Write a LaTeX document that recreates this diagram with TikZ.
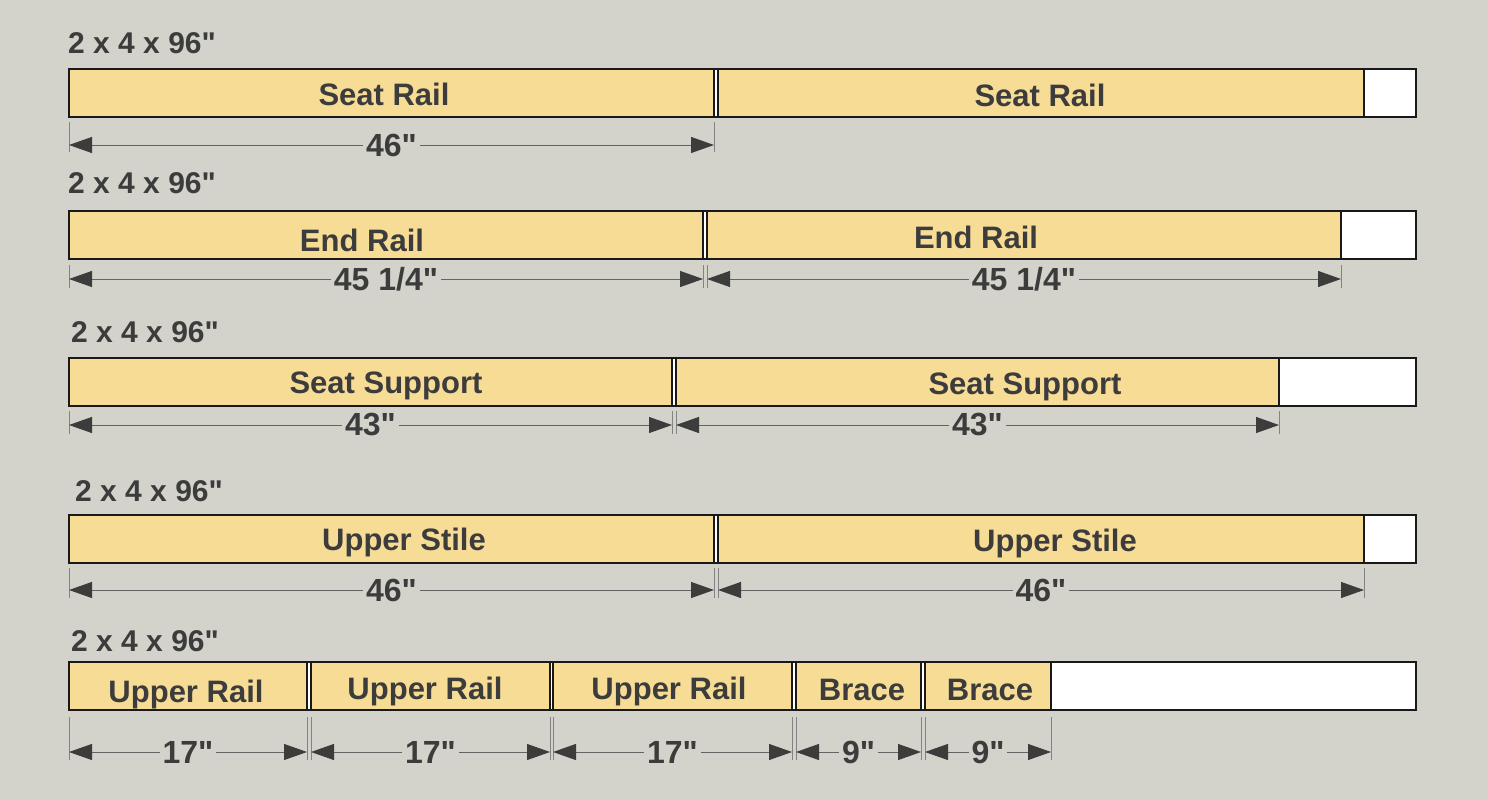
\documentclass[tikz,border=0pt]{standalone}
\usepackage{fontspec}
\setmainfont{Liberation Sans}[Ligatures=TeXOff]
\usetikzlibrary{arrows.meta, calc}

\definecolor{backdrop}{RGB}{211,211,203}
\definecolor{lumber}{RGB}{247,220,150}
\definecolor{ink}{RGB}{60,60,60}
\definecolor{dimgray}{RGB}{100,100,100}

\begin{document}
\begin{tikzpicture}[
    x=1pt, y=-1pt,
    board/.style={rectangle, draw=black!90, line width=2pt, fill=white, minimum height=48pt, inner sep=0pt, outer sep=0pt, anchor=north west},
    piece/.style={board, fill=lumber, line width=1.6pt},
    stock/.style={font=\fontsize{30}{36}\selectfont\bfseries, text=ink, anchor=base west, inner sep=0pt},
    part/.style={font=\fontsize{31}{36}\selectfont\bfseries, text=ink, anchor=base, inner sep=0pt},
    dimline/.style={{Triangle[length=23pt, width=16pt, color=ink]}-{Triangle[length=23pt, width=16pt, color=ink]}, draw=dimgray, line width=1pt},
    dimtext/.style={font=\fontsize{32}{36}\selectfont\bfseries, text=ink, fill=backdrop, inner xsep=3pt, inner ysep=1pt},
    extline/.style={draw=dimgray!80, line width=0.8pt}
]

\fill[backdrop] (0,0) rectangle (1488,800);

% Row 1 - seat rails
\node[stock] (stock1) at (68,53) {2 x 4 x 96"};
\node[board, minimum width=1347pt] (board1) at (69,69) {};
\node[piece, minimum width=645pt] (sr1) at (69,69) {};
\node[piece, minimum width=646pt] (sr2) at (718,69) {};
\node[part] at (384,105) {Seat Rail};
\node[part] at (1040,106) {Seat Rail};

\coordinate (dim1) at (0,145);
\coordinate (ext1a) at (0,122);
\coordinate (ext1b) at (0,152);
\draw[extline] (sr1.south west |- ext1a) -- (sr1.south west |- ext1b)
               (sr1.south east |- ext1a) -- (sr1.south east |- ext1b);
\draw[dimline] (sr1.south west |- dim1) -- (sr1.south east |- dim1) node[midway, dimtext] {46"};

% Row 2 - end rails
\node[stock] (stock2) at (68,193) {2 x 4 x 96"};
\node[board, minimum width=1347pt] (board2) at (69,211) {};
\node[piece, minimum width=634pt] (er1) at (69,211) {};
\node[piece, minimum width=634pt] (er2) at (707,211) {};
\node[part] at (362,251) {End Rail};
\node[part] at (976,248) {End Rail};

\coordinate (dim2) at (0,279);
\coordinate (ext2a) at (0,265);
\coordinate (ext2b) at (0,288);
\draw[extline] (er1.south west |- ext2a) -- (er1.south west |- ext2b)
               (er1.south east |- ext2a) -- (er1.south east |- ext2b)
               (er2.south west |- ext2a) -- (er2.south west |- ext2b)
               (er2.south east |- ext2a) -- (er2.south east |- ext2b);
\draw[dimline] (er1.south west |- dim2) -- (er1.south east |- dim2) node[midway, dimtext] {45 1/4"};
\draw[dimline] (er2.south west |- dim2) -- (er2.south east |- dim2) node[midway, dimtext] {45 1/4"};

% Row 3 - seat supports
\node[stock] (stock3) at (71,342) {2 x 4 x 96"};
\node[board, minimum width=1347pt] (board3) at (69,358) {};
\node[piece, minimum width=603pt] (ss1) at (69,358) {};
\node[piece, minimum width=603pt] (ss2) at (676,358) {};
\node[part] at (386,393) {Seat Support};
\node[part] at (1025,394) {Seat Support};

\coordinate (dim3) at (0,425);
\coordinate (ext3a) at (0,411);
\coordinate (ext3b) at (0,434);
\draw[extline] (ss1.south west |- ext3a) -- (ss1.south west |- ext3b)
               (ss1.south east |- ext3a) -- (ss1.south east |- ext3b)
               (ss2.south west |- ext3a) -- (ss2.south west |- ext3b)
               (ss2.south east |- ext3a) -- (ss2.south east |- ext3b);
\draw[dimline] (ss1.south west |- dim3) -- (ss1.south east |- dim3) node[midway, dimtext] {43"};
\draw[dimline] (ss2.south west |- dim3) -- (ss2.south east |- dim3) node[midway, dimtext] {43"};

% Row 4 - upper stiles
\node[stock] (stock4) at (75,501) {2 x 4 x 96"};
\node[board, minimum width=1347pt] (board4) at (69,515) {};
\node[piece, minimum width=645pt] (us1) at (69,515) {};
\node[piece, minimum width=646pt] (us2) at (718,515) {};
\node[part] at (404,550) {Upper Stile};
\node[part] at (1055,551) {Upper Stile};

\coordinate (dim4) at (0,590);
\coordinate (ext4a) at (0,568);
\coordinate (ext4b) at (0,598);
\draw[extline] (us1.south west |- ext4a) -- (us1.south west |- ext4b)
               (us1.south east |- ext4a) -- (us1.south east |- ext4b)
               (us2.south west |- ext4a) -- (us2.south west |- ext4b)
               (us2.south east |- ext4a) -- (us2.south east |- ext4b);
\draw[dimline] (us1.south west |- dim4) -- (us1.south east |- dim4) node[midway, dimtext] {46"};
\draw[dimline] (us2.south west |- dim4) -- (us2.south east |- dim4) node[midway, dimtext] {46"};

% Row 5 - upper rails and braces
\node[stock] (stock5) at (71,651) {2 x 4 x 96"};
\node[board, minimum width=1347pt] (board5) at (69,662) {};
\node[piece, minimum width=238pt] (ur1) at (69,662) {};
\node[piece, minimum width=239pt] (ur2) at (311,662) {};
\node[piece, minimum width=239pt] (ur3) at (553,662) {};
\node[piece, minimum width=125pt] (br1) at (796,662) {};
\node[piece, minimum width=126pt] (br2) at (925,662) {};
\node[part] at (186,702) {Upper Rail};
\node[part] at (425,699) {Upper Rail};
\node[part] at (669,699) {Upper Rail};
\node[part] at (862,700) {Brace};
\node[part] at (990,700) {Brace};

\coordinate (dim5) at (0,752);
\coordinate (ext5a) at (0,717);
\coordinate (ext5b) at (0,760);
\draw[extline] (ur1.south west |- ext5a) -- (ur1.south west |- ext5b)
               (ur1.south east |- ext5a) -- (ur1.south east |- ext5b)
               (ur2.south west |- ext5a) -- (ur2.south west |- ext5b)
               (ur2.south east |- ext5a) -- (ur2.south east |- ext5b)
               (ur3.south west |- ext5a) -- (ur3.south west |- ext5b)
               (ur3.south east |- ext5a) -- (ur3.south east |- ext5b)
               (br1.south west |- ext5a) -- (br1.south west |- ext5b)
               (br1.south east |- ext5a) -- (br1.south east |- ext5b)
               (br2.south west |- ext5a) -- (br2.south west |- ext5b)
               (br2.south east |- ext5a) -- (br2.south east |- ext5b);
\draw[dimline] (ur1.south west |- dim5) -- (ur1.south east |- dim5) node[midway, dimtext] {17"};
\draw[dimline] (ur2.south west |- dim5) -- (ur2.south east |- dim5) node[midway, dimtext] {17"};
\draw[dimline] (ur3.south west |- dim5) -- (ur3.south east |- dim5) node[midway, dimtext] {17"};
\draw[dimline] (br1.south west |- dim5) -- (br1.south east |- dim5) node[midway, dimtext] {9"};
\draw[dimline] (br2.south west |- dim5) -- (br2.south east |- dim5) node[midway, dimtext] {9"};

\end{tikzpicture}
\end{document}
